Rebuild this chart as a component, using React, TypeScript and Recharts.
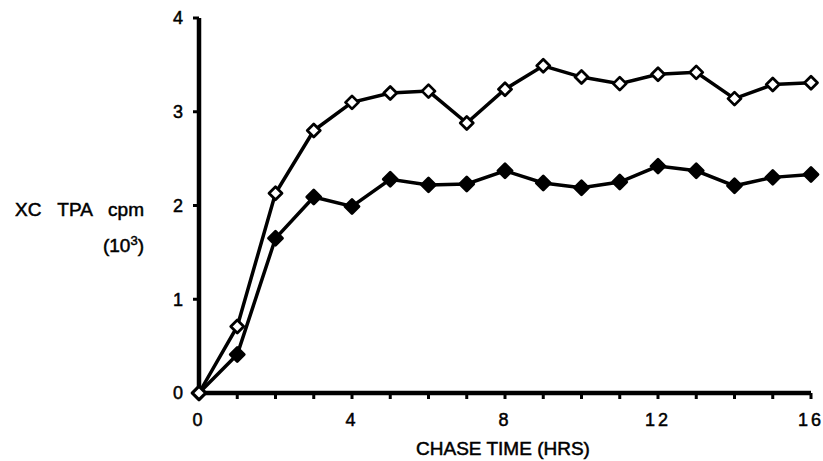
import { LineChart, Line, XAxis, YAxis } from 'recharts'

const hours = [0, 1, 2, 3, 4, 5, 6, 7, 8, 9, 10, 11, 12, 13, 14, 15, 16]
const openSeries = [0, 0.71, 2.13, 2.8, 3.1, 3.2, 3.22, 2.88, 3.24, 3.49, 3.37, 3.3, 3.4, 3.42, 3.14, 3.29, 3.31]
const filledSeries = [0, 0.41, 1.65, 2.09, 1.99, 2.28, 2.22, 2.23, 2.37, 2.24, 2.19, 2.25, 2.42, 2.37, 2.21, 2.3, 2.33]
const yTicks = [0, 1, 2, 3, 4]
const xLabelled = [0, 4, 8, 12, 16]

const data = hours.map((h, i) => ({ h, open: openSeries[i], filled: filledSeries[i] }))

const FONT = '"Liberation Sans", Arial, Helvetica, sans-serif'

function Diamond({ cx, cy, filled }: { cx?: number; cy?: number; filled: boolean }) {
  if (cx == null || cy == null) return null
  const r = filled ? 7 : 6.5
  return (
    <polygon
      points={`${cx},${cy - r} ${cx + r},${cy} ${cx},${cy + r} ${cx - r},${cy}`}
      fill={filled ? '#000' : '#fff'}
      stroke="#000"
      strokeWidth={2.8}
      strokeLinejoin="round"
    />
  )
}

export default function App() {
  const tickStyle = { fontSize: 18, fill: '#000', fontFamily: FONT, stroke: '#000', strokeWidth: 0.5 }
  const textStroke = { WebkitTextStroke: '0.5px #000', color: '#000' } as const
  return (
    <div style={{ position: 'relative', width: 823, height: 461, background: '#fff', fontFamily: FONT }}>
      <style>{`body{margin:0}`}</style>
      <LineChart width={823} height={461} data={data} margin={{ top: 18, right: 12, bottom: 8, left: 149 }}>
        <XAxis
          dataKey="h"
          type="number"
          domain={[0, 16]}
          ticks={hours}
          interval={0}
          tickFormatter={(v: number) => (xLabelled.includes(v) ? String(v) : '')}
          tick={{ ...tickStyle, letterSpacing: 3 }}
          tickSize={6}
          tickMargin={14}
          height={60}
          axisLine={{ stroke: '#000', strokeWidth: 4.5 }}
          tickLine={{ stroke: '#000', strokeWidth: 3 }}
        />
        <YAxis
          type="number"
          domain={[0, 4]}
          ticks={yTicks}
          width={50}
          tick={tickStyle}
          tickSize={6}
          tickMargin={10}
          axisLine={{ stroke: '#000', strokeWidth: 4.5 }}
          tickLine={{ stroke: '#000', strokeWidth: 3 }}
        />
        <Line
          dataKey="filled"
          stroke="#000"
          strokeWidth={3.5}
          isAnimationActive={false}
          dot={(p: any) => <Diamond key={`f${p.index}`} cx={p.cx} cy={p.cy} filled />}
        />
        <Line
          dataKey="open"
          stroke="#000"
          strokeWidth={3.5}
          isAnimationActive={false}
          dot={(p: any) => <Diamond key={`o${p.index}`} cx={p.cx} cy={p.cy} filled={false} />}
        />
      </LineChart>
      <div style={{ position: 'absolute', left: 13, width: 131, top: 198, fontSize: 19, textAlign: 'right', lineHeight: '24px', ...textStroke }}>
        <div style={{ wordSpacing: 11, whiteSpace: 'pre' }}>XC TPA cpm</div>
        <div style={{ marginTop: 12 }}>
          (10<sup style={{ fontSize: 13, lineHeight: 0 }}>3</sup>)
        </div>
      </div>
      <div style={{ position: 'absolute', left: 0, width: 1006, top: 438, textAlign: 'center', fontSize: 19, ...textStroke }}>
        CHASE TIME (HRS)
      </div>
    </div>
  )
}
